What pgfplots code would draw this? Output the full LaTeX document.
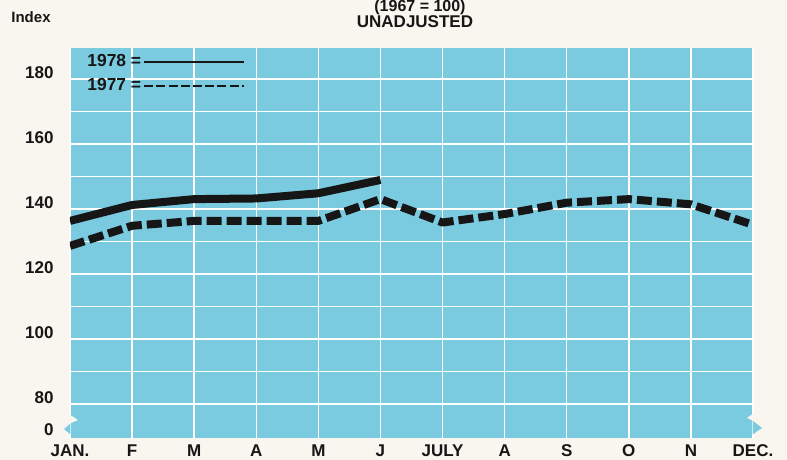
\documentclass[border=0pt]{standalone}
\usepackage{pgfplots}
\pgfplotsset{compat=1.18}
\usepackage{fontspec}
\setmainfont{Liberation Sans}
\definecolor{bgblue}{RGB}{122,202,224}
\definecolor{paper}{RGB}{248,246,238}
\definecolor{ink}{RGB}{22,22,22}
\begin{document}
\begin{tikzpicture}
\useasboundingbox[fill=paper] (-35pt,-11pt) rectangle (358.5pt,219pt);
\begin{axis}[at={(0,0)}, anchor=south west, scale only axis,
  width=341.5pt, height=195pt,
  xmin=0, xmax=11, ymin=69.5, ymax=189.5,
  axis line style={draw=none},
  axis background/.style={fill=bgblue},
  xtick={0,...,11},
  xticklabels={JAN.,F,M,A,M,J,JULY,A,S,O,N,DEC.},
  ytick={80,100,...,180},
  minor ytick={90,110,...,170},
  extra y ticks={70.2}, extra y tick labels={0},
  extra y tick style={grid=none},
  grid=both,
  major grid style={white, line width=0.75pt},
  minor grid style={white, line width=0.75pt},
  tick style={draw=none},
  /pgf/number format/assume math mode=true,
  yticklabel style={font=\bfseries\fontsize{8.5}{10}\selectfont, text=ink, inner sep=0pt, anchor=east, xshift=-8pt, yshift=3pt},
  xticklabel style={font=\bfseries\fontsize{8.5}{10}\selectfont, text=ink, inner sep=0pt, anchor=north, yshift=-3pt},
  legend plot pos=right,
  legend cell align=left,
  legend style={at={(rel axis cs:0.022,0.99)}, anchor=north west, draw=none, fill=none,
    inner sep=0pt, row sep=2.5pt, font=\bfseries\fontsize{8.7}{10}\selectfont, text=ink,
    nodes={inner sep=1pt}},
]
\addplot[ink, line width=4pt, line join=round,
  legend image code/.code={\draw[ink, line width=1pt] (0pt,0pt) -- (50pt,0pt);}]
  coordinates {(0,136.3) (1,141.2) (2,143) (3,143.2) (4,144.8) (5,148.9)};
\addlegendentry{1978 =}
\addplot[ink, line width=4pt, dash pattern=on 7.5pt off 2.5pt, line join=round,
  legend image code/.code={\draw[ink, line width=1pt, dash pattern=on 4.5pt off 1.6pt] (0pt,0pt) -- (50pt,0pt);}]
  coordinates {(0,128.6) (1,134.8) (2,136.3) (3,136.3) (4,136.3) (5,143) (6,135.8) (7,138.4) (8,141.9) (9,143) (10,141.4) (11,135.1)};
\addlegendentry{1977 =}
\end{axis}
% axis break marks
\fill[paper] (-0.6pt,12pt) -- (4pt,9pt) -- (-0.6pt,7pt) -- cycle;
\fill[bgblue] (0.2pt,7.2pt) -- (-3pt,4.5pt) -- (0.2pt,1.8pt) -- cycle;
\fill[paper] (342pt,12.5pt) -- (338.5pt,10pt) -- (342pt,8.5pt) -- cycle;
\fill[bgblue] (341.3pt,8.7pt) -- (346pt,5pt) -- (341.3pt,1.8pt) -- cycle;
% titles
\node[font=\bfseries\fontsize{7.5}{9}\selectfont, text=ink] at (-19.5pt,210.5pt) {Index};
\node[font=\bfseries\fontsize{8.5}{10}\selectfont, text=ink] at (172.5pt,208pt) {UNADJUSTED};
\node[font=\bfseries\fontsize{8}{9}\selectfont, text=ink] at (175pt,215.2pt) {(1967 = 100)};
\end{tikzpicture}
\end{document}
